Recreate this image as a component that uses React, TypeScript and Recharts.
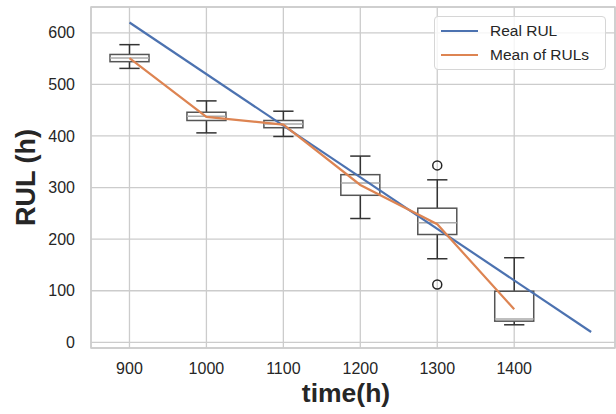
import React from 'react'
import {
  ComposedChart,
  Bar,
  Line,
  Scatter,
  XAxis,
  YAxis,
  CartesianGrid,
  ReferenceArea,
} from 'recharts'

document.body.style.margin = '0'

// box-plot stats, one entry per inspection time
const TIMES = [900, 1000, 1100, 1200, 1300, 1400]
const WHISK_LO = [531, 406, 399, 240, 162, 34]
const Q1 = [544, 430, 416, 285, 209, 41]
const MEDIAN = [551, 438, 423, 309, 232, 45]
const Q3 = [558, 446, 430, 325, 260, 99]
const WHISK_HI = [577, 468, 448, 361, 315, 164]
const MEAN_RUL = [551, 437, 422, 305, 229, 64]

// straight reference line
const REAL_T = [900, 1500]
const REAL_RUL = [620, 20]

const OUTLIER_T = [1300, 1300]
const OUTLIER_RUL = [343, 112]

const X_TICKS = [900, 1000, 1100, 1200, 1300, 1400]
const Y_TICKS = [0, 100, 200, 300, 400, 500, 600]

const BLUE = '#4c72b0'
const ORANGE = '#dd8452'
const TEXT = '#262626'
const GRID = '#cccccc'
const FONT = '"Liberation Sans", Arial, sans-serif'

type Row = {
  t: number
  box?: [number, number]
  lo?: number
  q1?: number
  med?: number
  q3?: number
  hi?: number
  mean?: number
  real?: number | null
}

const rows: Row[] = TIMES.map((t, i) => ({
  t,
  box: [WHISK_LO[i], WHISK_HI[i]],
  lo: WHISK_LO[i],
  q1: Q1[i],
  med: MEDIAN[i],
  q3: Q3[i],
  hi: WHISK_HI[i],
  mean: MEAN_RUL[i],
  real: null,
}))
REAL_T.forEach((t, i) => {
  const r = rows.find((d) => d.t === t)
  if (r) r.real = REAL_RUL[i]
  else rows.push({ t, real: REAL_RUL[i] })
})

const outliers = OUTLIER_T.map((t, i) => ({ t, rul: OUTLIER_RUL[i] }))

// draws whiskers + box + median inside the bar's [lo, hi] pixel span
function BoxShape(props: any) {
  const { x, y, width, height, payload } = props
  if (!payload || payload.lo == null) return null
  const top = Math.min(y, y + height)
  const h = Math.abs(height)
  const span = payload.hi - payload.lo
  const py = (v: number) => top + (h * (payload.hi - v)) / span
  const cx = x + width / 2
  const cap = width * 0.26
  return (
    <g>
      <line x1={cx} x2={cx} y1={py(payload.hi)} y2={py(payload.q3)} stroke="#333" strokeWidth={1.5} />
      <line x1={cx} x2={cx} y1={py(payload.q1)} y2={py(payload.lo)} stroke="#333" strokeWidth={1.5} />
      <line x1={cx - cap} x2={cx + cap} y1={py(payload.hi)} y2={py(payload.hi)} stroke="#333" strokeWidth={1.5} />
      <line x1={cx - cap} x2={cx + cap} y1={py(payload.lo)} y2={py(payload.lo)} stroke="#333" strokeWidth={1.5} />
      <rect
        x={x}
        y={py(payload.q3)}
        width={width}
        height={py(payload.q1) - py(payload.q3)}
        fill="#ffffff"
        stroke="#555"
        strokeWidth={1.5}
      />
      <line x1={x} x2={x + width} y1={py(payload.med)} y2={py(payload.med)} stroke="#aaaaaa" strokeWidth={1.5} />
    </g>
  )
}

function Outlier(props: any) {
  const { cx, cy } = props
  return <circle cx={cx} cy={cy} r={4.5} fill="none" stroke={TEXT} strokeWidth={1.5} />
}

function LegendBox() {
  const item = (color: string, label: string) => (
    <div style={{ display: 'flex', alignItems: 'center', height: 24 }}>
      <span style={{ width: 37, height: 2, background: color, marginRight: 12 }} />
      <span>{label}</span>
    </div>
  )
  return (
    <div
      style={{
        position: 'absolute',
        left: 434,
        top: 16,
        width: 164,
        padding: '2px 0 2px 6px',
        border: '1px solid #d6d6d6',
        borderRadius: 4,
        background: 'rgba(255,255,255,0.8)',
        fontFamily: FONT,
        fontSize: 15.5,
        color: TEXT,
      }}
    >
      {item(BLUE, 'Real RUL')}
      {item(ORANGE, 'Mean of RULs')}
    </div>
  )
}

export default function App() {
  return (
    <div style={{ position: 'relative', width: 616, height: 414 }}>
      <ComposedChart
        width={616}
        height={414}
        data={rows}
        margin={{ top: 7, right: 1, bottom: 0, left: 0 }}
        style={{ fontFamily: FONT }}
      >
        <CartesianGrid stroke={GRID} strokeWidth={1.3} />
        <XAxis
          dataKey="t"
          type="number"
          domain={[850, 1531]}
          ticks={X_TICKS}
          allowDataOverflow
          axisLine={false}
          tickLine={false}
          tickSize={0}
          tickMargin={15}
          height={66}
          tick={{ fill: TEXT, fontSize: 16 }}
          label={{
            content: ({ viewBox }: any) => (
              <text
                x={viewBox.x + viewBox.width / 2 - 7}
                y={viewBox.y + 45}
                textAnchor="middle"
                dominantBaseline="central"
                fill={TEXT}
                fontSize={26.5}
                fontWeight="bold"
              >
                time(h)
              </text>
            ),
          }}
        />
        <YAxis
          type="number"
          domain={[-11, 650]}
          ticks={Y_TICKS}
          allowDataOverflow
          axisLine={false}
          tickLine={false}
          tickSize={0}
          tickMargin={16}
          width={91}
          tick={{ fill: TEXT, fontSize: 16 }}
          label={{
            content: ({ viewBox }: any) => (
              <text
                transform={`translate(${viewBox.x + 26},${viewBox.y + viewBox.height / 2}) rotate(-90)`}
                textAnchor="middle"
                dominantBaseline="central"
                fill={TEXT}
                fontSize={27}
                fontWeight="bold"
              >
                RUL (h)
              </text>
            ),
          }}
        />
        <ReferenceArea x1={850} x2={1531} y1={-11} y2={650} fill="none" stroke={GRID} strokeWidth={1.5} />
        <Bar dataKey="box" barSize={39} shape={<BoxShape />} isAnimationActive={false} legendType="none" />
        <Scatter data={outliers} dataKey="rul" shape={<Outlier />} isAnimationActive={false} legendType="none" />
        <Line
          dataKey="real"
          name="Real RUL"
          stroke={BLUE}
          strokeWidth={2.2}
          dot={false}
          connectNulls
          isAnimationActive={false}
        />
        <Line
          dataKey="mean"
          name="Mean of RULs"
          stroke={ORANGE}
          strokeWidth={2.2}
          dot={false}
          isAnimationActive={false}
        />
      </ComposedChart>
      <LegendBox />
    </div>
  )
}
